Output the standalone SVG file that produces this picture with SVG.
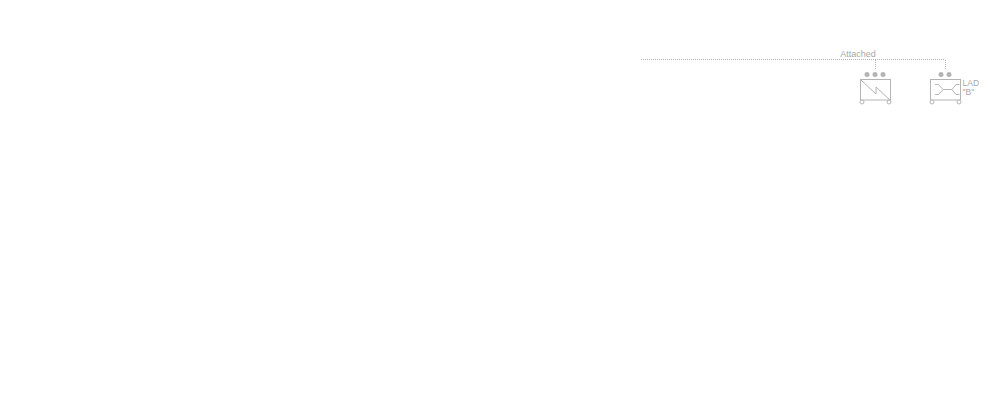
<svg xmlns="http://www.w3.org/2000/svg" width="1000" height="400" viewBox="0 0 1000 400">
<style>
.bg{fill:#ffffff}
.conn{fill:none;stroke:#b4b4b4;stroke-width:1;stroke-dasharray:1 1}
.box{fill:none;stroke:#b4b4b4;stroke-width:1}
.sym{fill:none;stroke:#b4b4b4;stroke-width:1}
.dot{fill:#b4b4b4}
.wheel{fill:#ffffff;stroke:#b4b4b4;stroke-width:1}
.lbl{font-family:"Liberation Sans",Arial,sans-serif;font-size:9px;fill:#a8a8a8}
.dev{font-family:"Liberation Sans",Arial,sans-serif;font-size:8.5px;fill:#a8a8a8}
</style>
<rect class="bg" x="0" y="0" width="1000" height="400"/>
<g id="connectors">
<path class="conn" d="M641 59.5 H945.5"/>
<path class="conn" d="M875.5 60 V70"/>
<path class="conn" d="M945.5 60 V70"/>
<text class="lbl" x="858" y="56.7" text-anchor="middle">Attached</text>
</g>
<g id="node-rectifier">
<circle class="dot" cx="867" cy="74.5" r="2.5"/>
<circle class="dot" cx="875" cy="74.5" r="2.5"/>
<circle class="dot" cx="883" cy="74.5" r="2.5"/>
<rect class="box" x="860.5" y="79.5" width="30" height="20.5"/>
<polyline class="sym" points="861,80 876,94 876,87 890,100"/>
<circle class="wheel" cx="862" cy="102" r="2"/>
<circle class="wheel" cx="889" cy="102" r="2"/>
</g>
<g id="node-lad-b">
<circle class="dot" cx="941" cy="74.5" r="2.5"/>
<circle class="dot" cx="949" cy="74.5" r="2.5"/>
<rect class="box" x="930.5" y="79.5" width="30" height="20.5"/>
<polyline class="sym" points="935,84.5 938.5,84.5 943,89.5 938.5,94.5 935,94.5"/>
<line class="sym" x1="943" y1="89.5" x2="952" y2="89.5"/>
<polyline class="sym" points="959.5,84.5 956,84.5 952,89.5 956,94.5 959.5,94.5"/>
<circle class="wheel" cx="932" cy="102" r="2"/>
<circle class="wheel" cx="959" cy="102" r="2"/>
<text class="dev" x="962.5" y="86">LAD</text>
<text class="dev" x="962.5" y="94.5">"B"</text>
</g>
</svg>
